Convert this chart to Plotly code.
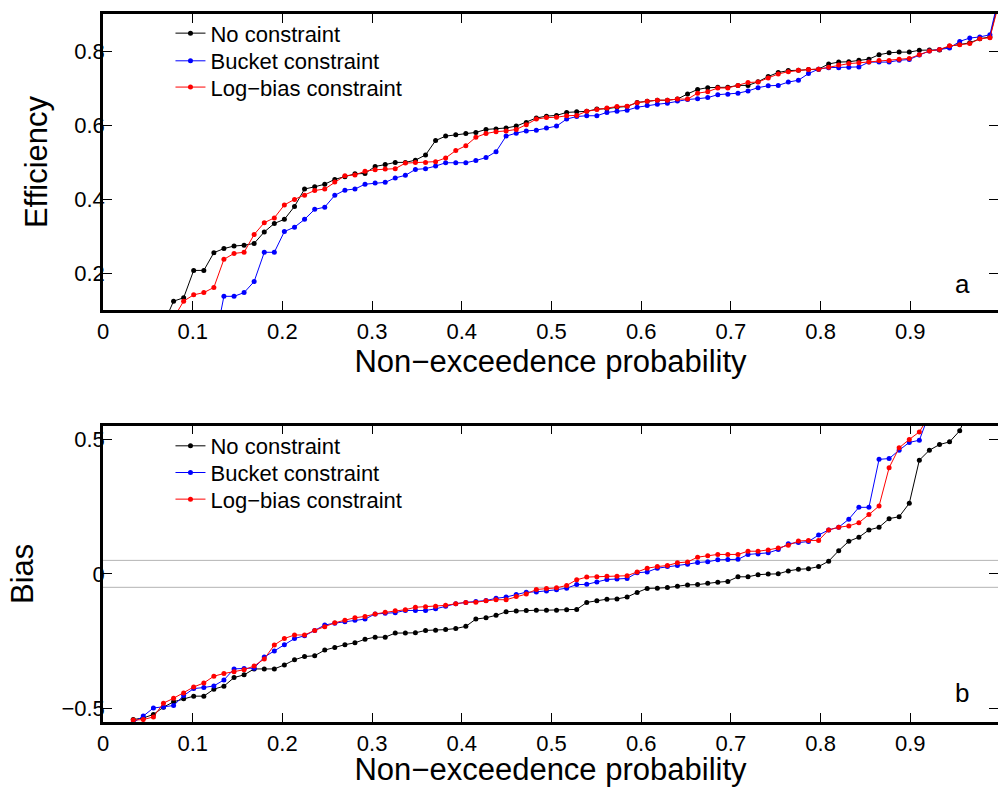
import plotly.graph_objects as go

# Non-exceedence probability (plotting positions of the 89 ranked values)
prob = [0.0112, 0.0225, 0.0337, 0.0449, 0.0562, 0.0674, 0.0787, 0.0899, 0.1011, 0.1124,
        0.1236, 0.1348, 0.1461, 0.1573, 0.1685, 0.1798, 0.1910, 0.2022, 0.2135, 0.2247,
        0.2360, 0.2472, 0.2584, 0.2697, 0.2809, 0.2921, 0.3034, 0.3146, 0.3258, 0.3371,
        0.3483, 0.3596, 0.3708, 0.3820, 0.3933, 0.4045, 0.4157, 0.4270, 0.4382, 0.4494,
        0.4607, 0.4719, 0.4831, 0.4944, 0.5056, 0.5169, 0.5281, 0.5393, 0.5506, 0.5618,
        0.5730, 0.5843, 0.5955, 0.6067, 0.6180, 0.6292, 0.6404, 0.6517, 0.6629, 0.6742,
        0.6854, 0.6966, 0.7079, 0.7191, 0.7303, 0.7416, 0.7528, 0.7640, 0.7753, 0.7865,
        0.7978, 0.8090, 0.8202, 0.8315, 0.8427, 0.8539, 0.8652, 0.8764, 0.8876, 0.8989,
        0.9101, 0.9213, 0.9326, 0.9438, 0.9551, 0.9663, 0.9775, 0.9888, 1.0]

# Panel a: efficiency
eff_none = [-0.20, -0.10, -0.04, 0.00, 0.03, 0.062, 0.124, 0.133, 0.207, 0.207,
            0.255, 0.266, 0.273, 0.275, 0.280, 0.311, 0.334, 0.345, 0.380, 0.427,
            0.433, 0.440, 0.453, 0.460, 0.468, 0.469, 0.488, 0.493, 0.499, 0.499,
            0.505, 0.519, 0.558, 0.570, 0.574, 0.577, 0.580, 0.588, 0.589, 0.592,
            0.597, 0.607, 0.619, 0.624, 0.626, 0.634, 0.636, 0.637, 0.643, 0.644,
            0.648, 0.650, 0.661, 0.664, 0.667, 0.667, 0.670, 0.684, 0.696, 0.701,
            0.702, 0.702, 0.707, 0.707, 0.717, 0.731, 0.742, 0.747, 0.748, 0.750,
            0.751, 0.765, 0.770, 0.771, 0.775, 0.778, 0.790, 0.795, 0.797, 0.797,
            0.802, 0.803, 0.803, 0.813, 0.818, 0.822, 0.833, 0.838, 0.950]
eff_bucket = [-0.30, -0.20, -0.15, -0.10, -0.07, -0.05, -0.04, -0.03, -0.02, -0.01,
              0.000, 0.137, 0.137, 0.147, 0.177, 0.256, 0.256, 0.312, 0.324, 0.345,
              0.372, 0.378, 0.410, 0.424, 0.427, 0.440, 0.443, 0.445, 0.457, 0.464,
              0.480, 0.482, 0.489, 0.498, 0.498, 0.498, 0.504, 0.512, 0.528, 0.570,
              0.578, 0.584, 0.586, 0.592, 0.597, 0.616, 0.623, 0.625, 0.625, 0.634,
              0.637, 0.640, 0.648, 0.653, 0.656, 0.659, 0.665, 0.669, 0.671, 0.674,
              0.682, 0.683, 0.686, 0.692, 0.701, 0.706, 0.707, 0.716, 0.721, 0.739,
              0.751, 0.755, 0.755, 0.756, 0.757, 0.770, 0.770, 0.770, 0.775, 0.777,
              0.789, 0.800, 0.804, 0.808, 0.826, 0.835, 0.838, 0.844, 0.960]
eff_logbias = [-0.25, -0.15, -0.10, -0.06, -0.03, 0.00, 0.078, 0.124, 0.141, 0.147,
               0.161, 0.237, 0.253, 0.256, 0.304, 0.336, 0.349, 0.384, 0.399, 0.410,
               0.423, 0.427, 0.446, 0.463, 0.465, 0.475, 0.479, 0.481, 0.482, 0.497,
               0.499, 0.499, 0.501, 0.511, 0.531, 0.544, 0.567, 0.577, 0.582, 0.584,
               0.588, 0.601, 0.616, 0.620, 0.621, 0.625, 0.626, 0.637, 0.642, 0.646,
               0.650, 0.651, 0.660, 0.664, 0.667, 0.667, 0.670, 0.670, 0.686, 0.690,
               0.700, 0.700, 0.707, 0.715, 0.716, 0.727, 0.738, 0.744, 0.748, 0.750,
               0.751, 0.756, 0.762, 0.766, 0.768, 0.770, 0.774, 0.774, 0.778, 0.780,
               0.790, 0.800, 0.804, 0.814, 0.817, 0.820, 0.833, 0.836, 0.940]

# Panel b: bias
bias_none = [-0.75, -0.62, -0.541, -0.535, -0.522, -0.495, -0.475, -0.464, -0.454, -0.454,
             -0.428, -0.417, -0.385, -0.375, -0.353, -0.353, -0.353, -0.338, -0.319, -0.307,
             -0.304, -0.283, -0.273, -0.263, -0.256, -0.243, -0.235, -0.235, -0.220, -0.220,
             -0.219, -0.210, -0.209, -0.207, -0.203, -0.195, -0.168, -0.163, -0.154, -0.141,
             -0.138, -0.136, -0.135, -0.135, -0.135, -0.133, -0.132, -0.106, -0.100, -0.094,
             -0.093, -0.086, -0.069, -0.054, -0.053, -0.051, -0.046, -0.041, -0.040, -0.035,
             -0.031, -0.028, -0.011, -0.011, -0.003, -0.001, 0.000, 0.011, 0.017, 0.019,
             0.027, 0.047, 0.086, 0.121, 0.136, 0.163, 0.173, 0.205, 0.212, 0.262,
             0.422, 0.459, 0.480, 0.490, 0.531, 0.620, 0.700, 0.850, 1.100]
bias_bucket = [-0.80, -0.65, -0.552, -0.528, -0.498, -0.494, -0.489, -0.452, -0.426, -0.422,
               -0.416, -0.394, -0.353, -0.351, -0.350, -0.309, -0.286, -0.263, -0.240, -0.230,
               -0.210, -0.190, -0.183, -0.178, -0.172, -0.168, -0.149, -0.146, -0.144, -0.136,
               -0.136, -0.136, -0.130, -0.120, -0.111, -0.106, -0.103, -0.099, -0.091, -0.086,
               -0.077, -0.068, -0.067, -0.064, -0.059, -0.053, -0.040, -0.039, -0.030, -0.021,
               -0.019, -0.017, 0.004, 0.007, 0.021, 0.027, 0.031, 0.036, 0.042, 0.045,
               0.052, 0.053, 0.054, 0.072, 0.074, 0.078, 0.090, 0.112, 0.116, 0.120,
               0.144, 0.163, 0.173, 0.203, 0.247, 0.247, 0.425, 0.428, 0.459, 0.488,
               0.496, 0.591, 0.700, 0.800, 0.900, 1.000, 1.100, 1.200, 1.400]
bias_logbias = [-0.78, -0.63, -0.543, -0.541, -0.531, -0.480, -0.462, -0.442, -0.420, -0.405,
                -0.380, -0.370, -0.363, -0.356, -0.342, -0.316, -0.264, -0.240, -0.227, -0.227,
                -0.210, -0.196, -0.182, -0.172, -0.163, -0.158, -0.149, -0.143, -0.137, -0.133,
                -0.124, -0.122, -0.120, -0.117, -0.111, -0.106, -0.105, -0.100, -0.096, -0.096,
                -0.084, -0.075, -0.058, -0.054, -0.052, -0.043, -0.022, -0.012, -0.011, -0.009,
                -0.009, -0.007, 0.007, 0.021, 0.027, 0.031, 0.041, 0.044, 0.062, 0.067,
                0.072, 0.072, 0.072, 0.084, 0.084, 0.089, 0.096, 0.106, 0.122, 0.124,
                0.124, 0.163, 0.173, 0.178, 0.190, 0.220, 0.252, 0.394, 0.468, 0.499,
                0.527, 0.588, 0.680, 0.780, 0.880, 0.980, 1.080, 1.200, 1.350]

series_names = ["No constraint", "Bucket constraint", "Log\u2212bias constraint"]
series_colors = ["#000000", "#0000ff", "#ff0000"]
eff_series = [eff_none, eff_bucket, eff_logbias]
bias_series = [bias_none, bias_bucket, bias_logbias]
bias_band = [-0.05, 0.05]

FONT = "Liberation Sans, Arial, Helvetica, sans-serif"

fig = go.Figure()
for i, (name, color, ys) in enumerate(zip(series_names, series_colors, eff_series)):
    fig.add_trace(go.Scatter(x=prob, y=ys, mode="lines+markers", name=name,
                             line=dict(color=color, width=1),
                             marker=dict(color=color, size=5),
                             xaxis="x", yaxis="y",
                             legend="legend" if i == 0 else "legend%d" % (i + 1)))
for i, (name, color, ys) in enumerate(zip(series_names, series_colors, bias_series)):
    fig.add_trace(go.Scatter(x=prob, y=ys, mode="lines+markers", name=name,
                             line=dict(color=color, width=1),
                             marker=dict(color=color, size=5),
                             xaxis="x2", yaxis="y2", legend="legend%d" % (i + 4)))
# empty traces so the right-hand tick axes get drawn
fig.add_trace(go.Scatter(x=[], y=[], xaxis="x", yaxis="y3", showlegend=False, hoverinfo="skip"))
fig.add_trace(go.Scatter(x=[], y=[], xaxis="x2", yaxis="y4", showlegend=False, hoverinfo="skip"))

XR = [0, 0.9978]
ax_common = dict(showgrid=False, zeroline=False, ticks="inside", ticklen=9, tickwidth=1,
                 tickcolor="black", showline=True, linewidth=2.5, linecolor="black",
                 automargin=False,
                 tickfont=dict(family=FONT, size=22, color="black"))
title_font = dict(family=FONT, size=31, color="black")
right_ticks = dict(ticks="inside", ticklen=9, tickwidth=1, tickcolor="black", showline=False,
                   showticklabels=False, showgrid=False, zeroline=False, automargin=False)

fig.update_layout(
    width=998, height=787,
    margin=dict(l=103, r=0, t=14, b=65, autoexpand=False),
    paper_bgcolor="white", plot_bgcolor="white",
    font=dict(family=FONT, color="black"),
    showlegend=True,
    xaxis=dict(domain=[0, 1], anchor="y", range=XR, dtick=0.1, tick0=0, mirror="ticks",
               title=dict(text="Non\u2212exceedence probability", font=title_font, standoff=8),
               **ax_common),
    yaxis=dict(domain=[0.5819, 1], anchor="x", range=[0.1, 0.9], dtick=0.2, tick0=0,
               title=dict(text="Efficiency", font=title_font, standoff=18), **ax_common),
    yaxis3=dict(overlaying="y", side="right", anchor="x", range=[0.1, 0.9], dtick=0.2, tick0=0,
                **right_ticks),
    xaxis2=dict(domain=[0, 1], anchor="y2", range=XR, dtick=0.1, tick0=0, mirror="ticks",
                title=dict(text="Non\u2212exceedence probability", font=title_font, standoff=9),
                **ax_common),
    yaxis2=dict(domain=[0, 0.4185], anchor="x2", range=[-0.55, 0.55], dtick=0.5, tick0=0,
                title=dict(text="Bias", font=title_font, standoff=19), **ax_common),
    yaxis4=dict(overlaying="y2", side="right", anchor="x2", range=[-0.55, 0.55], dtick=0.5, tick0=0,
                **right_ticks),
)

# Pull y tick labels closer to the axis, as in the reference
try:
    fig.update_layout(yaxis_ticklabelstandoff=-9, yaxis2_ticklabelstandoff=-9)
except Exception:
    fig.update_layout(yaxis_title_standoff=10, yaxis2_title_standoff=10)

# one legend per entry so the row spacing matches the reference
legend_x = 0.0754
legend_rows_top = [0.9727, 0.9336, 0.8965]
legend_rows_bottom = [0.3898, 0.3521, 0.3145]
leg_style = dict(xanchor="left", yanchor="middle", bgcolor="rgba(0,0,0,0)",
                 font=dict(family=FONT, size=22, color="black"), borderwidth=0)
legend_layout = {}
for i, yv in enumerate(legend_rows_top + legend_rows_bottom):
    key = "legend" if i == 0 else "legend%d" % (i + 1)
    legend_layout[key] = dict(x=legend_x, y=yv, **leg_style)
fig.update_layout(**legend_layout)

for yv in bias_band:
    fig.add_shape(type="line", xref="x2 domain", yref="y2", x0=0, x1=1, y0=yv, y1=yv,
                  line=dict(color="#b4b4b4", width=1), layer="below")

fig.add_annotation(text="a", xref="x", yref="y", x=0.958, y=0.171, showarrow=False,
                   font=dict(family=FONT, size=26, color="black"))
fig.add_annotation(text="b", xref="x2", yref="y2", x=0.958, y=-0.442, showarrow=False,
                   font=dict(family=FONT, size=26, color="black"))

# remove the default page margin so the 998x787 figure fills the window exactly
fig.write_html("out.html",
               config={"displayModeBar": False},
               post_script="document.body.style.margin='0';"
                           "document.documentElement.style.overflow='hidden';"
                           "document.body.style.overflow='hidden';")
